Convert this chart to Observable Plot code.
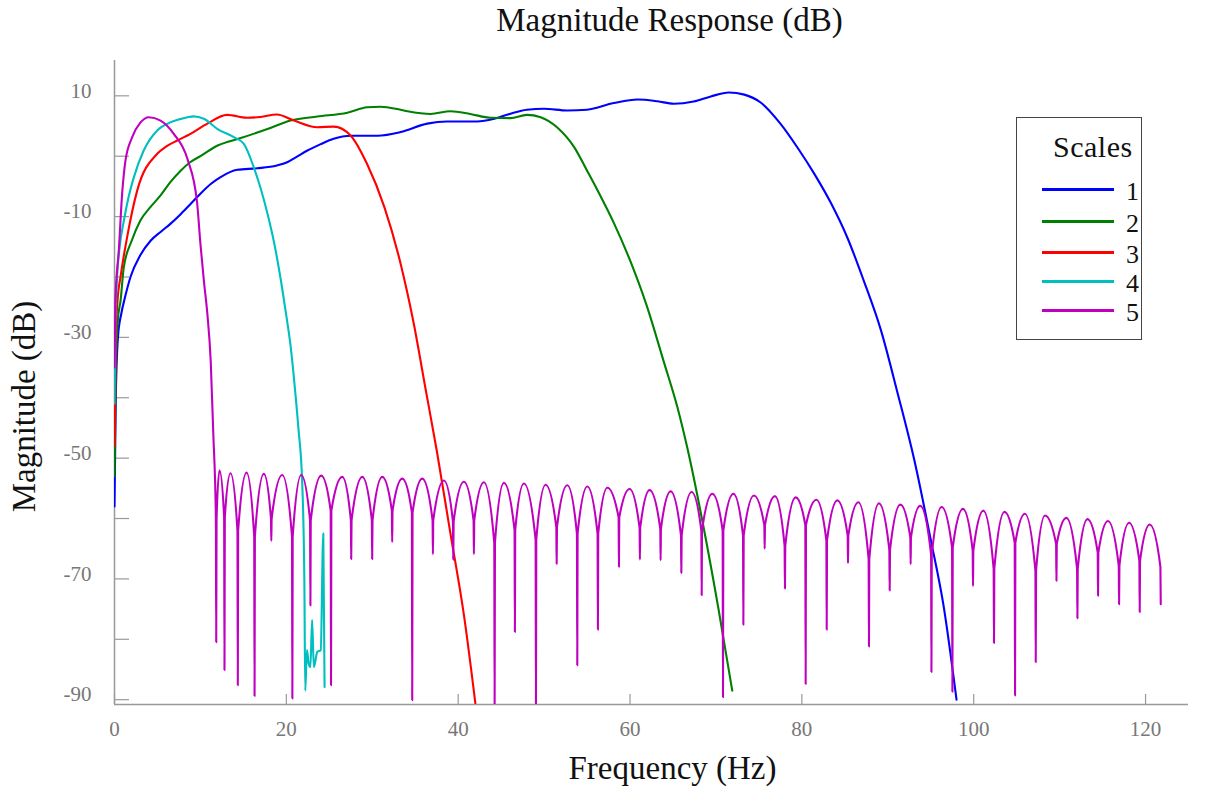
<!DOCTYPE html>
<html><head><meta charset="utf-8">
<script src="https://cdn.jsdelivr.net/npm/d3@7"></script>
<script src="https://cdn.jsdelivr.net/npm/@observablehq/plot@0.6"></script>
<style>
body{margin:0;background:#fff;}
#wrap{position:relative;width:1216px;height:790px;font-family:"Liberation Serif","DejaVu Serif",serif;}
#legend{position:absolute;left:1016px;top:117px;width:126px;height:223px;border:1px solid #444;box-sizing:border-box;background:#fff;}
#legend .ttl{position:absolute;left:36px;top:12px;font-size:30px;line-height:34px;letter-spacing:0.5px;color:#111;white-space:nowrap;}
#legend .row{position:absolute;left:25px;height:0;}
#legend .sw{position:absolute;left:0;top:-1.5px;width:72px;height:3px;}
#legend .lab{position:absolute;left:84px;top:-8px;font-size:26px;line-height:22px;color:#111;}
</style></head><body>
<div id="wrap"><div id="chart"></div><div id="legend"></div></div>
<script>
const FONT = "Liberation Serif, DejaVu Serif, serif";
const seriesNames = ["1","2","3","4","5"];
const seriesColors = ["#0000ff","#008000","#ff0000","#00bfbf","#bf00bf"];
const xDomain = [0, 125];
const yDomain = [-90.8, 15.85];
const xTicks = [0,20,40,60,80,100,120];
const yTicks = [10,0,-10,-20,-30,-40,-50,-60,-70,-80,-90];
const yTickLabels = [10,-10,-30,-50,-70,-90];

// Scale 1
const s1Hz = [0,0.15,0.4,0.8,1.2,1.86,3.0,4.2,5.4,6.5,7.7,8.8,10,11.2,12.3,14.3,16.6,18.9,20.1,21.2,22.4,24,25.5,27.5,30.6,33.3,36.4,38.7,42.2,44.2,46,48,50,52.7,55,58.1,60.9,63.2,65.1,67.4,69.4,71.5,73.3,75.2,77.5,79.6,81.4,83.4,85.3,87.2,89.2,91.1,93.1,95.0,96.5,98.0];
const s1Db = [-58,-40,-30,-26,-23.5,-20,-16.4,-14,-12.5,-11.2,-9.6,-8,-6.2,-4.6,-3.5,-2.25,-2.0,-1.54,-1.0,-0.1,0.9,2.0,2.9,3.4,3.4,4.0,5.4,5.75,5.75,6.2,7.0,7.7,7.85,7.57,7.7,8.8,9.4,9.1,8.68,9.06,9.9,10.55,10.2,8.9,5.4,1.2,-2.8,-7.8,-13.5,-20.6,-28.8,-39.0,-50.4,-63.5,-74.5,-90];
// Scale 2
const s2Hz = [0,0.15,0.4,0.7,1.08,2.0,3.03,4.2,5.36,6.5,7.7,8.8,10,12,14.7,17.8,20.5,23.6,27.1,29.4,31,33.3,34.1,36.8,39.1,41.4,43.8,46.1,48,49.6,51.5,53.5,55,56.2,58.1,60.1,62.0,63.9,65.5,66.7,68.5,70.3,71.9];
const s2Db = [-53,-35,-27,-24,-18.4,-14,-10.6,-8.4,-6.5,-4.3,-2.4,-1.0,0.0,1.77,3.0,4.5,5.9,6.57,7.2,8.1,8.2,7.68,7.45,7.0,7.45,7.0,6.36,6.3,6.85,6.46,4.8,1.5,-2.4,-5.6,-11.0,-17.6,-25.0,-33.9,-41.5,-48.5,-61,-75,-88.5];
// Scale 3
const s3Hz = [0,0.15,0.35,0.7,1.47,2.64,4.97,6,7.3,8.85,10.8,13.1,15.4,17,18.9,20.9,23.6,25.5,27.5,29.4,31.4,33.3,34.8,36.2,37.5,39.1,40.7,42.0];
const s3Db = [-48,-30,-24,-20,-13.4,-5.7,0.4,1.6,2.6,3.7,5.4,6.85,6.36,6.5,6.9,5.9,4.8,4.9,3.4,-1.3,-8.4,-17.8,-27.5,-38.5,-48.7,-62.5,-76.3,-90.6];
// Scale 4
const s4Hz = [0,0.1,0.3,0.6,1.1,1.6,2.25,3.4,5,6.5,7.5,8.5,9.2,10.4,12,13.9,15.05,16.2,17.8,18.6,19.3,19.9,20.5,21.0,21.4,21.85,22.1,22.2,22.4,22.6,22.8,23.0,23.2,23.6,24.0,24.3,24.45];
const s4Db = [-41,-28,-20,-15,-10.6,-7,-3.5,0.94,4.3,5.6,6.1,6.46,6.6,6.2,4.5,3.15,2.05,-1.8,-9.5,-14.5,-20.0,-25.5,-31.5,-38.5,-45,-54.2,-70.7,-88.5,-81.8,-84,-84.6,-76.8,-84.6,-82.1,-81.8,-62.5,-87.9];
// Scale 5: main lobe, sidelobe peaks and notches
const s5MainHz = [0,0.1,0.5,0.9,1.28,2.06,3.03,4.0,5.36,6.9,8.5,9.6,10.0,10.4,10.8,11.2,11.5];
const s5MainDb = [-35,-24,-15.6,-6,-0.7,3.15,5.6,6.46,5.9,3.7,-0.5,-7.5,-14.5,-20.6,-26,-34,-46];
const s5PeakHz = [12.22,13.50,15.37,17.38,19.52,21.73,24.06,26.51,28.84,31.16,33.49,35.82,38.34,40.66,42.99,45.32,47.65,50.17,52.70,55.03,57.36,59.95,62.28,64.73,67.17,69.58,72.03,74.42,76.87,79.28,81.69,84.13,86.58,88.97,91.46,93.77,96.27,98.75,101.13,103.57,105.97,108.30,110.79,113.24,115.63,118.08,120.49];
const s5PeakDb = [-52.0,-52.5,-52.4,-52.6,-52.8,-52.8,-52.9,-53.1,-53.1,-53.1,-53.4,-53.4,-53.7,-53.9,-54.0,-54.1,-54.2,-54.4,-54.5,-54.7,-54.9,-55.1,-55.3,-55.5,-55.6,-55.9,-55.9,-56.2,-56.3,-56.5,-56.9,-57.0,-57.3,-57.5,-57.7,-57.9,-58.1,-58.4,-58.7,-58.9,-59.2,-59.5,-59.9,-60.1,-60.4,-60.7,-61.0];
const s5NotchHz = [11.84,12.80,14.35,16.30,18.25,20.70,22.80,25.20,27.55,29.99,32.32,34.65,37.06,39.43,41.83,44.24,46.60,49.05,51.46,53.86,56.26,58.71,61.15,63.56,65.97,68.34,70.82,73.19,75.67,78.03,80.44,82.89,85.37,87.81,90.22,92.66,95.08,97.52,99.92,102.36,104.81,107.22,109.63,112.07,114.47,116.92,119.32,121.77];
const s5NotchTopDb = [-60,-59.8,-62,-63,-60.0,-63,-60.3,-58.7,-60.3,-60.3,-58.7,-59,-60.3,-60.5,-60.3,-64,-61.9,-63.5,-61.4,-62.5,-62.5,-59.8,-61.5,-61.7,-62.8,-62.0,-62,-62.8,-61.1,-64.5,-61.1,-63.6,-62.8,-66.7,-65.2,-63.1,-66,-64.8,-65.3,-68.3,-64,-68.6,-64.2,-68.3,-65.6,-67.8,-67.0,-68.0];
const s5NotchDepthDb = [-80.5,-85.1,-87.6,-89.4,-63.7,-89.8,-74.4,-87.6,-66.7,-66.7,-63.9,-90.1,-65.9,-66.8,-65.9,-91.5,-78.8,-91.0,-67.5,-84.3,-78.4,-68.0,-66.8,-66.9,-69.0,-72.7,-89.6,-77.6,-65.0,-71.6,-87.4,-78.4,-67.4,-81.2,-71.9,-67.6,-85.4,-88.7,-71.2,-80.6,-89.3,-83.8,-70.3,-76.5,-72.8,-74.2,-75.5,-74.2];

const NOTCH_HALF_WIDTH = 0.04; // Hz, width of a sampled zero
const rows = [];
function addSeries(name, hz, db){ hz.forEach((f,i)=>rows.push({scale:name, f, db: db[i]})); }
addSeries("1", s1Hz, s1Db);
addSeries("2", s2Hz, s2Db);
addSeries("3", s3Hz, s3Db);
addSeries("4", s4Hz, s4Db);
addSeries("5", s5MainHz, s5MainDb);
s5NotchHz.forEach((f,i)=>{
  rows.push({scale:"5", f: f - NOTCH_HALF_WIDTH, db: s5NotchTopDb[i]});
  rows.push({scale:"5", f, db: s5NotchDepthDb[i]});
  if (i < s5PeakHz.length) {
    rows.push({scale:"5", f: f + NOTCH_HALF_WIDTH, db: s5NotchTopDb[i]});
    rows.push({scale:"5", f: s5PeakHz[i], db: s5PeakDb[i]});
  }
});

const W = 1216, H = 790, ML = 114, MR = 28, MT = 60, MB = 86;
const innerW = W - ML - MR, innerH = H - MT - MB;
const GRAY = "#999", LABEL = "#777";

const lineMarks = seriesNames.map((n,i)=>Plot.line(rows.filter(r=>r.scale===n), {
  x:"f", y:"db", stroke: seriesColors[i], strokeWidth: 2.1, curve:"monotone-x", clip:true
}));

const chart = Plot.plot({
  width: W, height: H,
  marginLeft: ML, marginRight: MR, marginTop: MT, marginBottom: MB,
  style: {fontFamily: FONT, background: "#fff"},
  x: {domain: xDomain},
  y: {domain: yDomain},
  marks: [
    Plot.ruleX([xDomain[0]], {stroke: GRAY, strokeWidth: 1.5}),
    Plot.ruleY([yDomain[0]], {stroke: GRAY, strokeWidth: 1.5}),
    Plot.tickY(yTicks, {y: d=>d, stroke: GRAY, strokeWidth: 1.2, insetRight: innerW - 15}),
    Plot.tickX(xTicks, {x: d=>d, stroke: GRAY, strokeWidth: 1.2, insetTop: innerH - 10}),
    Plot.axisY(yTickLabels, {tickSize: 0, tickPadding: 23, fontSize: 21, fill: LABEL, color: LABEL, fontFamily: FONT, tickFormat: d=>String(d), label: null, dy: -5, style: {letterSpacing: "0.8px"}}),
    Plot.axisX(xTicks, {tickSize: 0, tickPadding: 17, fontSize: 21, fill: LABEL, color: LABEL, fontFamily: FONT, tickFormat: d=>String(d), label: null, style: {letterSpacing: "0.8px"}}),
    ...lineMarks,
    Plot.text(["Magnitude Response (dB)"], {frameAnchor: "top", dx: 18, dy: -40, fontSize: 33, fill: "#111", fontFamily: FONT, lineAnchor: "middle", style: {letterSpacing: "1.4px"}}),
    Plot.text(["Frequency (Hz)"], {frameAnchor: "bottom", dx: 21, dy: 64, fontSize: 33, fill: "#111", fontFamily: FONT, lineAnchor: "middle", style: {letterSpacing: "1px"}}),
    Plot.text(["Magnitude (dB)"], {frameAnchor: "left", textAnchor: "middle", dx: -90, dy: 24, rotate: -90, fontSize: 33, fill: "#111", fontFamily: FONT, lineAnchor: "middle", style: {letterSpacing: "1px"}})
  ]
});
document.getElementById("chart").appendChild(chart);

// Legend
const legend = document.getElementById("legend");
const t = document.createElement("div"); t.className = "ttl"; t.textContent = "Scales"; legend.appendChild(t);
const rowTops = [71, 103, 134, 163, 192];
seriesNames.forEach((n,i)=>{
  const r = document.createElement("div"); r.className = "row"; r.style.top = rowTops[i] + "px";
  const sw = document.createElement("div"); sw.className = "sw"; sw.style.background = seriesColors[i];
  const lab = document.createElement("div"); lab.className = "lab"; lab.textContent = n;
  r.appendChild(sw); r.appendChild(lab); legend.appendChild(r);
});
</script></body></html>
